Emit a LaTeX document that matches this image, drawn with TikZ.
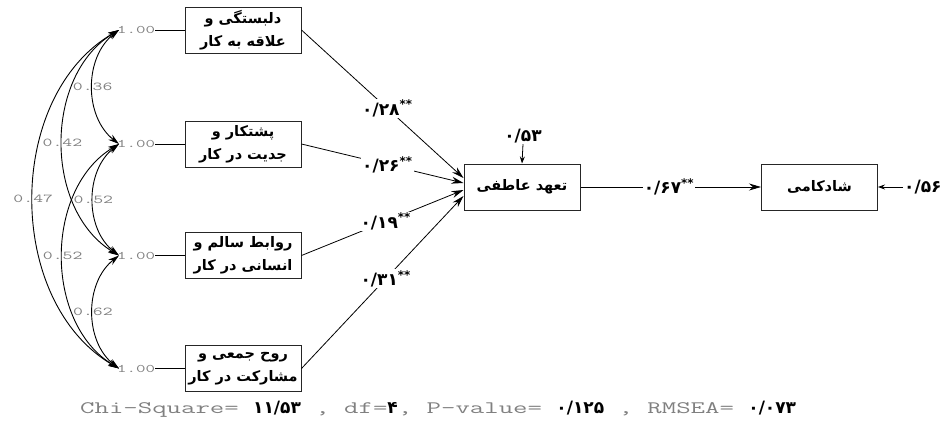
\documentclass[tikz,border=0pt]{standalone}
\usepackage{fontspec}
\usepackage{graphicx}
\setmainfont{DejaVu Sans}
\newfontfamily\fa[Script=Arabic]{DejaVu Sans}
\newcommand{\sm}[2][17.5]{\scalebox{1.6}[1]{\ttfamily\fontsize{#1}{#1}\selectfont #2}}
\TeXXeTstate=1
\usetikzlibrary{arrows.meta}
\newcommand{\gm}[1]{{\color{black!50}\sm{#1}}}
\newcommand{\pb}[1]{{\fa\bfseries\fontsize{17}{20}\selectfont\color{black}#1}}
\tikzset{
  box/.style={draw=black!85, line width=1pt, minimum width=116pt, minimum height=46pt,
    inner sep=0pt, align=center, font=\fa\bfseries\fontsize{14.5}{23}\selectfont},
  coef/.style={font=\fa\bfseries\fontsize{17}{18}\selectfont, fill=white, inner sep=1pt},
  gl/.style={text=black!50, inner sep=0pt},
  pathln/.style={draw, line width=0.8pt, -{Stealth[length=12pt,width=7pt]}},
  resln/.style={draw, line width=0.8pt, -{Stealth[length=7pt,width=5pt]}},
  covarc/.style={draw, line width=0.9pt, {Stealth[length=11pt,width=6.5pt]}-{Stealth[length=11pt,width=6.5pt]}},
}
\begin{document}
\begin{tikzpicture}[x=1pt,y=-1pt]
\useasboundingbox (0,0) rectangle (946,423);
% exogenous boxes
\node[box] (b1) at (243,30)  {\beginR دلبستگی و\endR\\\beginR علاقه به کار\endR};
\node[box] (b2) at (243,144) {\beginR پشتکار و\endR\\\beginR جدیت در کار\endR};
\node[box] (b3) at (243,255.5) {\beginR روابط سالم و\endR\\\beginR انسانی در کار\endR};
\node[box] (b4) at (243,368.5) {\beginR روح جمعی و\endR\\\beginR مشارکت در کار\endR};
% variances
\node[gl, anchor=west] (o1) at (117,30) {\sm[11.5]{1.00}};
\node[gl, anchor=west] (o2) at (117,144) {\sm[11.5]{1.00}};
\node[gl, anchor=west] (o3) at (117,255.5) {\sm[11.5]{1.00}};
\node[gl, anchor=west] (o4) at (117,368.5) {\sm[11.5]{1.00}};
\draw[line width=0.8pt] (o1.east) -- (b1.west);
\draw[line width=0.8pt] (o2.east) -- (b2.west);
\draw[line width=0.8pt] (o3.east) -- (b3.west);
\draw[line width=0.8pt] (o4.east) -- (b4.west);
\coordinate (v1) at (119,30);
\coordinate (v2) at (119,144);
\coordinate (v3) at (119,255.5);
\coordinate (v4) at (119,368.5);
% covariances
\draw[covarc] (v1) to[bend right=52] node[gl]{\sm[12]{0.36}} (v2);
\draw[covarc] (v1) to[bend right=59] node[gl]{\sm[12]{0.42}} (v3);
\draw[covarc] (v1) to[bend right=60] node[gl]{\sm[12]{0.47}} (v4);
\draw[covarc] (v2) to[bend right=52] node[gl]{\sm[12]{0.52}} (v3);
\draw[covarc] (v2) to[bend right=59] node[gl]{\sm[12]{0.52}} (v4);
\draw[covarc] (v3) to[bend right=52] node[gl]{\sm[12]{0.62}} (v4);
% endogenous
\node[box] (e) at (522,187) {\beginR تعهد عاطفی\endR};
\node[box] (h) at (819.5,187) {\beginR شادکامی\endR};
% paths
\draw[pathln] (b1.east) -- node[coef,pos=0.53]{۰/۲۸\textsuperscript{**}} ([yshift=9pt]e.west);
\draw[pathln] (b2.east) -- node[coef,pos=0.53]{۰/۲۶\textsuperscript{**}} ([yshift=4pt]e.west);
\draw[pathln] (b3.east) -- node[coef,pos=0.52]{۰/۱۹\textsuperscript{**}} ([yshift=-3pt]e.west);
\draw[pathln] (b4.east) -- node[coef,pos=0.52]{۰/۳۱\textsuperscript{**}} ([yshift=-9pt]e.west);
\draw[pathln] (e.east) -- node[coef,pos=0.49]{۰/۶۷\textsuperscript{**}} (h.west);
% residuals
\node[coef, fill=none] (r1) at (523,136) {۰/۵۳};
\draw[resln] (r1.south) -- (e.north);
\node[coef, fill=none, anchor=west] (r2) at (903,187) {۰/۵۶};
\draw[resln] (r2.west) -- (h.east);
% fit statistics
\node[anchor=west, inner sep=0pt] (fit) at (80,409) {\gm{Chi-Square=\ }\pb{۱۱/۵۳}\gm{\ ,\ df=}\pb{۴}\gm{,\ P-value=\ }\pb{۰/۱۲۵}\gm{\ ,\ RMSEA=\ }\pb{۰/۰۷۳}};
\end{tikzpicture}
\end{document}
